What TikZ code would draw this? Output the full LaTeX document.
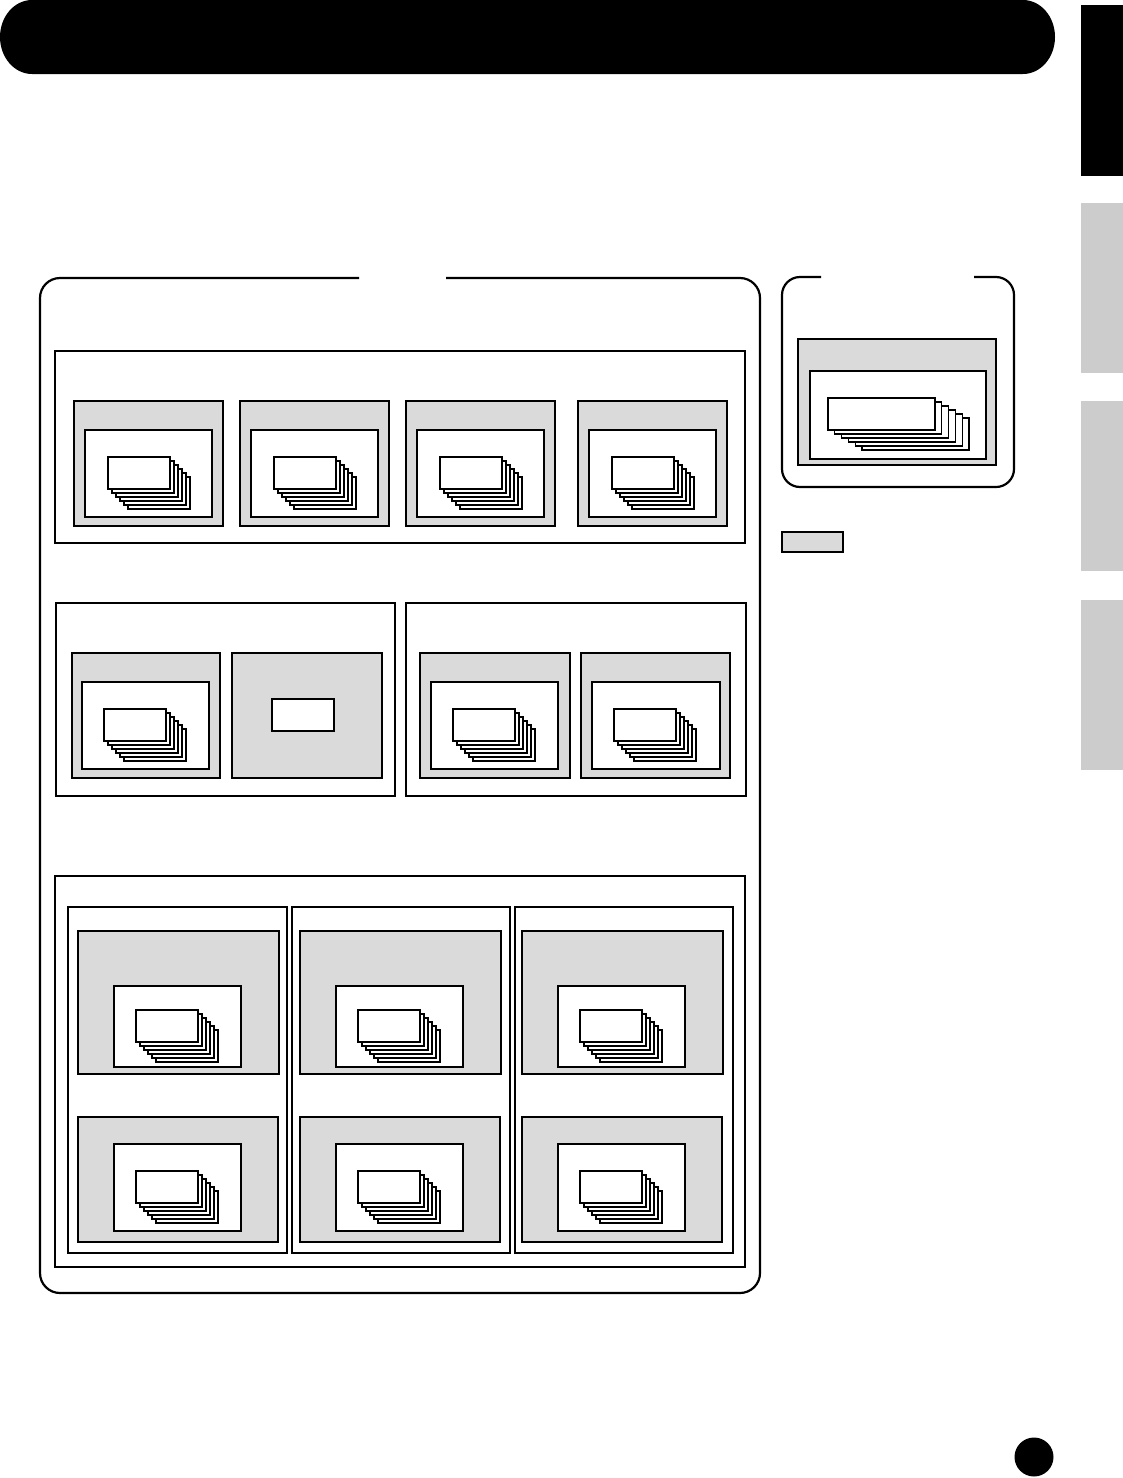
\documentclass[tikz,border=0pt]{standalone}
\usepackage{tikz}
\definecolor{boxgray}{HTML}{DADADA}
\definecolor{tabgray}{HTML}{CCCCCC}
\tikzset{
  mainframe/.style={draw=black, line width=2.2pt},
  groupframe/.style={draw=black, line width=2.4pt},
  colframe/.style={draw=black, line width=1.2pt},
  graybox/.style={draw=black, fill=boxgray, line width=1.2pt},
  whitebox/.style={draw=black, fill=white, line width=1.2pt},
  card/.style={draw=black, fill=white, line width=1.1pt}
}
\newcommand{\cardstack}[5]{%
  \foreach \i in {5,4,...,0}{%
    \draw[card] ({#1+\i*#4},{#2+\i*#5}) rectangle +(#3,32);}}
\newcommand{\panelbox}[9]{% gray x0 y0 x1 y1, white x0 y0 x1 y1, stack y
  \draw[graybox] (#1,#2) rectangle (#3,#4);
  \draw[whitebox] (#5,#6) rectangle (#7,#8);}
\begin{document}
\begin{tikzpicture}[x=1pt,y=-1pt]
\useasboundingbox (0,0) rectangle (1123,1478);
% banner
\fill[black] (32,0) -- (1023,0) arc[start angle=-90, end angle=90, x radius=32, y radius=37] -- (32,74) arc[start angle=90, end angle=270, x radius=32, y radius=37] -- cycle;
% side tabs
\fill[black] (1081,5) rectangle (1123,176);
\fill[tabgray] (1081,203) rectangle (1123,373);
\fill[tabgray] (1081,401) rectangle (1123,571);
\fill[tabgray] (1081,600) rectangle (1123,770);
% main frame with title gap
\draw[mainframe, rounded corners=20] (359,278) -- (40,278) -- (40,1293) -- (760,1293) -- (760,278) -- (446,278);
% right frame
\draw[mainframe, rounded corners=18] (821,277) -- (782,277) -- (782,487) -- (1014,487) -- (1014,277) -- (974,277);
\draw[graybox] (798,339) rectangle (996,465);
\draw[whitebox] (810,371) rectangle (986,459);
\cardstack{828}{398}{107}{6.8}{4}
% legend swatch
\draw[graybox] (782,532) rectangle (843,552);
% top group
\draw[groupframe] (55,351) rectangle (745,543);
\foreach \x in {74,240,406,578}{
  \draw[graybox] (\x,401) rectangle ({\x+149},526);
  \draw[whitebox] ({\x+11},430) rectangle ({\x+138},517);
  \cardstack{\x+34}{457}{62}{4}{4}
}
% middle group A
\draw[groupframe] (56,603) rectangle (395,796);
\draw[graybox] (72,653) rectangle (220,778);
\draw[whitebox] (82,682) rectangle (209,769);
\cardstack{104}{709}{62}{4}{4}
\draw[graybox] (232,653) rectangle (382,778);
\draw[card] (272,699) rectangle (334,731);
% middle group B
\draw[groupframe] (406,603) rectangle (746,796);
\draw[graybox] (420,653) rectangle (570,778);
\draw[whitebox] (431,682) rectangle (558,769);
\cardstack{453}{709}{62}{4}{4}
\draw[graybox] (581,653) rectangle (730,778);
\draw[whitebox] (592,682) rectangle (720,769);
\cardstack{614}{709}{62}{4}{4}
% bottom group
\draw[groupframe] (55,876) rectangle (745,1267);
\draw[colframe] (68,907) rectangle (287,1253);
\draw[colframe] (292,907) rectangle (510,1253);
\draw[colframe] (515,907) rectangle (733,1253);
\foreach \g/\w/\c in {78/114/136, 300/336/358, 522/558/580}{
  \draw[graybox] (\g,931) rectangle ({\g+201},1074);
  \draw[whitebox] (\w,986) rectangle ({\w+127},1067);
  \cardstack{\c}{1010}{62}{4}{4}
  \draw[graybox] (\g,1117) rectangle ({\g+200},1242);
  \draw[whitebox] (\w,1144) rectangle ({\w+127},1231);
  \cardstack{\c}{1171}{62}{4}{4}
}
% page number disc
\fill[black] (1034,1457) circle[radius=19.5];
\end{tikzpicture}
\end{document}
